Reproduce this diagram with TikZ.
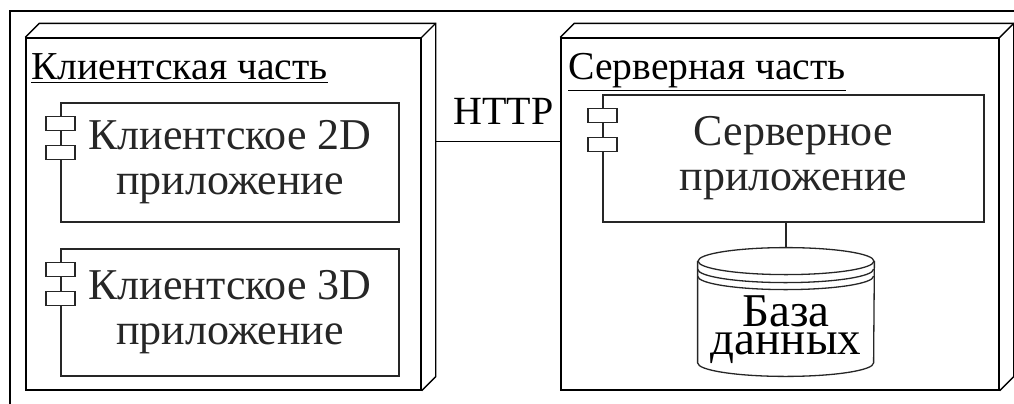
\documentclass[tikz,border=0pt]{standalone}
\usepackage{fontspec}
\setmainfont{Liberation Serif}
\usetikzlibrary{calc}
\tikzset{
	devline/.style={line width=0.7pt, color=black},
	compline/.style={line width=0.65pt, color=black!85},
	devbox/.style={devline, draw, inner sep=0pt},
	compbox/.style={compline, draw, inner sep=0pt, align=center, font=\fontsize{22}{22.5}\selectfont},
	titletext/.style={anchor=base west, inner sep=0pt, font=\fontsize{19.8}{22}\selectfont}
}
% back edges of a 3d device box
\def\devback(#1){\draw[devline] (#1.north west) -- ++(14,-14) -| ($(#1.south east)+(14,-14)$) -- (#1.south east); \draw[devline] (#1.north east) -- ++(14,-14);}
% the two small tabs of a component
\def\compears(#1){\draw[compline, fill=white] ($(#1.north west)+(-14.5,14)$) rectangle ++(29,14); \draw[compline, fill=white] ($(#1.north west)+(-14.5,43)$) rectangle ++(29,14);}

\begin{document}
\begin{tikzpicture}[x=0.5pt, y=-0.5pt]
		%%%%% START %%%%%
		\useasboundingbox (0,0) rectangle (1014,403);
		
		\draw[line width=1pt] (10,420) -- (10,10.5) -- (1030,10.5);
		
		% client side
		\node[devbox, minimum width=197.5pt, minimum height=176pt] (cli) at (223.5,214) {};
		\devback(cli)
		\node[titletext] (clititle) at (31,79) {\underline{Клиентская часть}};
		
		\node[compbox, minimum width=169pt, minimum height=59.5pt] (app2d) at (230,162.5) {Клиентское 2D\\приложение};
		\compears(app2d)
		\node[compbox, minimum width=169pt, minimum height=63.5pt] (app3d) at (230,312.5) {Клиентское 3D\\приложение};
		\compears(app3d)
		
		% server side
		\node[devbox, minimum width=219pt, minimum height=176pt] (srv) at (780,214) {};
		\devback(srv)
		\node[titletext] (srvtitle) at (568,79) {\underline{Серверная часть}};
		
		\node[compbox, minimum width=190.5pt, minimum height=63.5pt] (srvapp) at (793.5,158.5) {Серверное\\приложение};
		\compears(srvapp)
		
		% database
		\node[inner sep=0pt, minimum width=88pt, minimum height=64pt] (db) at (786,312) {};
		\draw[compline] ($(db.north)+(0,13.5)$) ellipse [x radius=44pt, y radius=6.75pt];
		\draw[compline] ($(db.north west)+(0,13.5)$) -- ($(db.south west)+(0,-13.5)$) arc [start angle=180, end angle=360, x radius=44pt, y radius=6.75pt] -- ($(db.north east)+(0,13.5)$);
		\draw[compline] ($(db.north west)+(0,21.5)$) arc [start angle=180, end angle=360, x radius=44pt, y radius=6.75pt];
		\draw[compline] ($(db.north west)+(0,28.5)$) arc [start angle=180, end angle=360, x radius=44pt, y radius=6.75pt];
		\node[inner sep=0pt, align=center, font=\fontsize{23.5}{14}\selectfont] (dbtext) at (786,330) {База\\данных};
		
		% links
		\coordinate (httpL) at ($(cli.north east)+(14,104)$);
		\draw[devline] (httpL) -- (httpL -| srv.west) node[midway, above=8pt, inner sep=0pt, xshift=2.75pt, font=\fontsize{20}{22}\selectfont] (http) {HTTP};
		\draw[compline] (db.north) -- (db.north |- srvapp.south);
		
		%%%%% END %%%%%
\end{tikzpicture}
\end{document}
